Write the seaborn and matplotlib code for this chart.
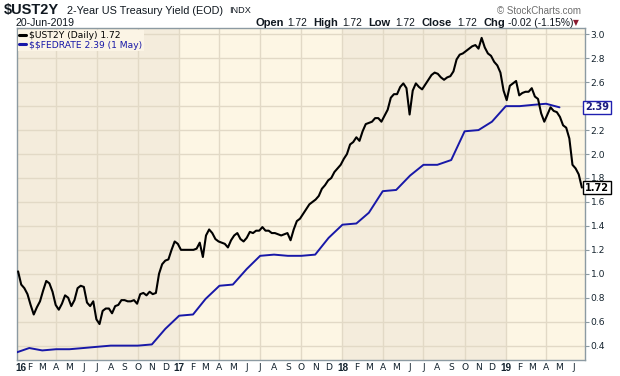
import matplotlib
matplotlib.use("Agg")
import matplotlib.pyplot as plt
import matplotlib.transforms as mtransforms
import numpy as np
import pandas as pd
import seaborn as sns

# ---------------- data ----------------
# weekly closes of the 2-year Treasury yield, last one on 20-Jun-2019
ust2y_last_date = "2019-06-20"
ust2y = [
    1.02, 0.91, 0.88, 0.83, 0.74, 0.66, 0.72, 0.77, 0.86, 0.94,
    0.92, 0.85, 0.74, 0.70, 0.75, 0.82, 0.80, 0.73, 0.78, 0.88,
    0.90, 0.89, 0.76, 0.73, 0.77, 0.62, 0.58, 0.69, 0.71, 0.71,
    0.67, 0.73, 0.74, 0.78, 0.78, 0.77, 0.77, 0.78, 0.75, 0.83,
    0.84, 0.82, 0.85, 0.83, 0.84, 1.00, 1.08, 1.11, 1.12, 1.20,
    1.27, 1.25, 1.20, 1.20, 1.20, 1.20, 1.20, 1.21, 1.26, 1.14,
    1.32, 1.37, 1.34, 1.29, 1.27, 1.26, 1.25, 1.22, 1.28, 1.32,
    1.34, 1.29, 1.27, 1.30, 1.35, 1.34, 1.36, 1.36, 1.39, 1.36,
    1.36, 1.34, 1.34, 1.33, 1.32, 1.33, 1.34, 1.28, 1.37, 1.44,
    1.46, 1.50, 1.54, 1.58, 1.60, 1.62, 1.65, 1.71, 1.74, 1.78,
    1.80, 1.85, 1.88, 1.91, 1.96, 2.00, 2.08, 2.10, 2.14, 2.11,
    2.19, 2.25, 2.26, 2.27, 2.30, 2.30, 2.27, 2.32, 2.37, 2.47,
    2.50, 2.50, 2.56, 2.59, 2.55, 2.33, 2.53, 2.59, 2.56, 2.54,
    2.58, 2.62, 2.66, 2.68, 2.67, 2.64, 2.62, 2.64, 2.65, 2.69,
    2.79, 2.83, 2.84, 2.86, 2.88, 2.90, 2.91, 2.88, 2.97, 2.89,
    2.84, 2.82, 2.77, 2.74, 2.68, 2.53, 2.45, 2.57, 2.59, 2.61,
    2.49, 2.51, 2.52, 2.52, 2.55, 2.48, 2.46, 2.34, 2.27, 2.33,
    2.39, 2.36, 2.35, 2.31, 2.24, 2.22, 2.13, 1.91, 1.88, 1.83,
    1.72,
]
# monthly effective federal funds rate, Jan 2016 .. May 2019
fed_first_month = "2016-01-01"
fedrate = [
    0.34, 0.38, 0.36, 0.37, 0.37, 0.38, 0.39, 0.40, 0.40, 0.40, 0.41, 0.54,
    0.65, 0.66, 0.79, 0.90, 0.91, 1.04, 1.15, 1.16, 1.15, 1.15, 1.16, 1.30,
    1.41, 1.42, 1.51, 1.69, 1.70, 1.82, 1.91, 1.91, 1.95, 2.19, 2.20, 2.27,
    2.40, 2.40, 2.41, 2.42, 2.39,
]
y_ticks = [0.4, 0.6, 0.8, 1.0, 1.2, 1.4, 1.6, 1.8, 2.0, 2.2, 2.4, 2.6, 2.8, 3.0]
month_letters = ["J", "F", "M", "A", "M", "J", "J", "A", "S", "O", "N", "D"]
years = [2016, 2017, 2018, 2019]

ust_df = pd.DataFrame({
    "date": pd.date_range(end=ust2y_last_date, periods=len(ust2y), freq="7D"),
    "value": ust2y,
})
fed_df = pd.DataFrame({
    "date": pd.date_range(fed_first_month, periods=len(fedrate), freq="MS"),
    "value": fedrate,
})

# ---------------- style ----------------
sns.set_style("white")
plt.rcParams["font.family"] = ["DejaVu Sans"]

W, H = 620, 376
fig = plt.figure(figsize=(W / 100, H / 100), dpi=100)
fig.patch.set_facecolor("white")
ax = fig.add_axes([16.7 / W, 1 - 360 / H, (585 - 16.7) / W, (360 - 28.3) / H])

LIGHT = "#fdf6e4"
DARK = "#f4ecdc"
GRID = "#e2d9c6"
FRAME = "#8c9aa2"
TXT = "#14232e"
HF = ["Liberation Sans", "DejaVu Sans"]

x0 = pd.Timestamp("2016-01-03 22:00")
x1 = pd.Timestamp("2019-06-27")
ax.set_facecolor(LIGHT)
for yr in years:
    if yr % 2 == 0:
        ax.axvspan(max(pd.Timestamp(f"{yr}-01-01"), x0), pd.Timestamp(f"{yr+1}-01-01"),
                   color=DARK, zorder=0.2, lw=0)

sns.lineplot(data=fed_df, x="date", y="value", ax=ax, color="#1818a8", lw=1.4,
             label="\\$\\$FEDRATE 2.39 (1 May)", zorder=3)
sns.lineplot(data=ust_df, x="date", y="value", ax=ax, color="black", lw=1.5,
             label="\\$UST2Y (Daily) 1.72", zorder=4)

ax.set_xlim(x0, x1)
ax.set_ylim(0.28, 3.05)
ax.set_xlabel("")
ax.set_ylabel("")

# grid: quarterly verticals, 0.2 horizontals
quarters = [d for d in pd.date_range("2016-04-01", "2019-06-01", freq="QS")]
for q in quarters:
    ax.axvline(q, color=GRID, lw=1, zorder=0.5)
for yv in y_ticks:
    ax.axhline(yv, color=GRID, lw=1, zorder=0.5)

# x ticks: month letters, years bold
months = pd.date_range("2016-02-01", "2019-06-01", freq="MS")
tick_pos = [x0] + list(months)
tick_lab = ["16"] + [(str(d.year)[2:] if d.month == 1 else month_letters[d.month - 1]) for d in months]
ax.set_xticks(tick_pos)
ax.set_xticklabels(tick_lab)
ax.tick_params(axis="x", length=0, pad=2.5, labelsize=6.6, labelcolor=TXT)
for lab, d in zip(ax.get_xticklabels(), tick_pos):
    if d == x0 or d.month == 1:
        lab.set_fontweight("bold")
        lab.set_fontsize(7.2)
        lab.set_family(HF)
first = ax.get_xticklabels()[0]
first.set_horizontalalignment("left")
first.set_transform(first.get_transform() + mtransforms.ScaledTranslation(-1.5 / 100, 0, fig.dpi_scale_trans))

# right axis; the 2.4 label sits under the FEDRATE value box in the reference
ax.yaxis.tick_right()
ax.set_yticks(y_ticks)
ax.set_yticklabels(["" if abs(v - 2.4) < 1e-9 else f"{v:.1f}" for v in y_ticks])
ax.tick_params(axis="y", length=3, width=0.8, color=FRAME, pad=1, labelsize=6.6,
               labelcolor=TXT, direction="out")

for side in ["left", "right", "top", "bottom"]:
    ax.spines[side].set_color(FRAME)
    ax.spines[side].set_linewidth(1)
ax.spines["right"].set_linestyle((0, (1, 1)))

# legend
handles, labels = ax.get_legend_handles_labels()
leg = ax.legend(handles[::-1], labels[::-1], loc="upper left", bbox_to_anchor=(0.0, 1.0),
                borderaxespad=0.15, borderpad=0.15, fontsize=6.6, handlelength=0.7,
                handletextpad=0.35, labelspacing=0.05, frameon=True, fancybox=False,
                labelcolor="linecolor")
leg.get_frame().set_facecolor("#fbf4e5")
leg.get_frame().set_edgecolor("none")
leg.get_frame().set_alpha(1)
for ln in leg.get_lines():
    ln.set_linewidth(2.2)

# right-hand value callouts
trans = mtransforms.blended_transform_factory(ax.transAxes, ax.transData)
ax.text(1.021, fedrate[-1], f"{fedrate[-1]:.2f}", transform=trans, ha="center", va="center",
        fontsize=7, fontweight="bold", color="#1a1a80", clip_on=False, zorder=10,
        bbox=dict(boxstyle="square,pad=0.18", fc="white", ec="#2020b0", lw=1))
ax.text(1.021, ust2y[-1], f"{ust2y[-1]:.2f}", transform=trans, ha="center", va="center",
        fontsize=7, fontweight="bold", color="black", clip_on=False, zorder=10,
        bbox=dict(boxstyle="square,pad=0.18", fc="white", ec="black", lw=1))

# header texts
def px(x, y):
    return x / W, 1 - y / H

fig.text(*px(4, 10), "\\$UST2Y", fontsize=10.5, fontweight="bold", family=HF, color="#101820", va="center")
fig.text(*px(67, 10.5), "2-Year US Treasury Yield (EOD)", fontsize=7.8, family=HF, color="#101820", va="center")
fig.text(*px(229, 10.5), "INDX", fontsize=6.6, family=HF, color="#101820", va="center")
fig.text(*px(16, 23), "20-Jun-2019", fontsize=7.6, family=HF, color="#101820", va="center")
fig.text(*px(497, 11), "© StockCharts.com", fontsize=7, family=HF, color="#6e6e6e", va="center")

pieces = [
    (255, "Open", True), (287, "1.72", False),
    (313, "High", True), (342, "1.72", False),
    (368, "Low", True), (395, "1.72", False),
    (422, "Close", True), (457, "1.72", False),
    (484, "Chg", True), (508, "-0.02 (-1.15%)", False),
]
for xx, s, b in pieces:
    fig.text(*px(xx, 23), s, fontsize=8 if b else 7.4, fontweight="bold" if b else "normal",
             family=HF, color="#101820", va="center")
fig.text(*px(575.5, 22.5), "▼", fontsize=5.5, color="#8b1a30", va="center", ha="center",
         family=["DejaVu Sans"])

fig.savefig("out.png", dpi=100, facecolor="white")
